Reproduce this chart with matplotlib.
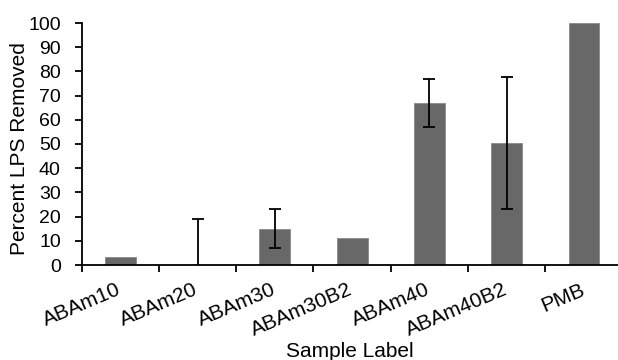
import numpy as np
import matplotlib
matplotlib.use('Agg')
import matplotlib.pyplot as plt
import matplotlib.transforms as mtransforms

labels = ['ABAm10', 'ABAm20', 'ABAm30', 'ABAm30B2', 'ABAm40', 'ABAm40B2', 'PMB']
removed = [3.2, 0, 15, 11, 67, 50.3, 100]
err = [0, 19, 8, 0, 10, 27.3, 0]

plt.rcParams['font.family'] = ['Liberation Sans', 'DejaVu Sans']

fig = plt.figure(figsize=(6.18, 3.6), dpi=100)
ax = fig.add_axes([81.6 / 618, 95 / 360, 541 / 618, 242 / 360])

x = np.arange(len(labels))
ax.bar(x, removed, width=0.4, color='#686868', edgecolor='#8a8a8a', linewidth=0.6, zorder=2)

# only bars that have an error value get a bar drawn
idx = [i for i, e in enumerate(err) if e > 0]
ax.errorbar(x[idx], [removed[i] for i in idx], yerr=[err[i] for i in idx],
            fmt='none', ecolor='black', elinewidth=1.3, capsize=4.5, capthick=1.3, zorder=3)

ax.set_xlim(-0.5, len(labels) - 0.5)
ax.set_ylim(0, 100)
ax.set_yticks(range(0, 101, 10))
ax.set_xticks(np.arange(len(labels) + 1) - 0.5, minor=False)
ax.set_xticklabels([])
ax.set_xticks(x, minor=True)
ax.set_xticklabels(labels, minor=True, rotation=23, ha='right', rotation_mode='anchor', fontsize=15)
ax.tick_params(axis='x', which='minor', length=0, pad=11)
ax.tick_params(axis='x', which='major', direction='out', length=5, width=1.3)
ax.tick_params(axis='y', direction='out', length=5, width=1.3, labelsize=14, pad=10)

# nudge rotated labels a bit to the left
shift = mtransforms.ScaledTranslation(-4 / 100, 0, fig.dpi_scale_trans)
for lbl in ax.get_xticklabels(minor=True):
    lbl.set_transform(lbl.get_transform() + shift)

for s in ['top', 'right']:
    ax.spines[s].set_visible(False)
ax.spines['left'].set_linewidth(1.3)
ax.spines['bottom'].set_linewidth(1.3)

fig.text(20 / 618, 211.5 / 360, 'Percent LPS Removed', rotation=90, ha='center', va='center', fontsize=15)
fig.text(350 / 618, 3 / 360, 'Sample Label', ha='center', va='baseline', fontsize=15)

fig.savefig('out.png', dpi=100)
